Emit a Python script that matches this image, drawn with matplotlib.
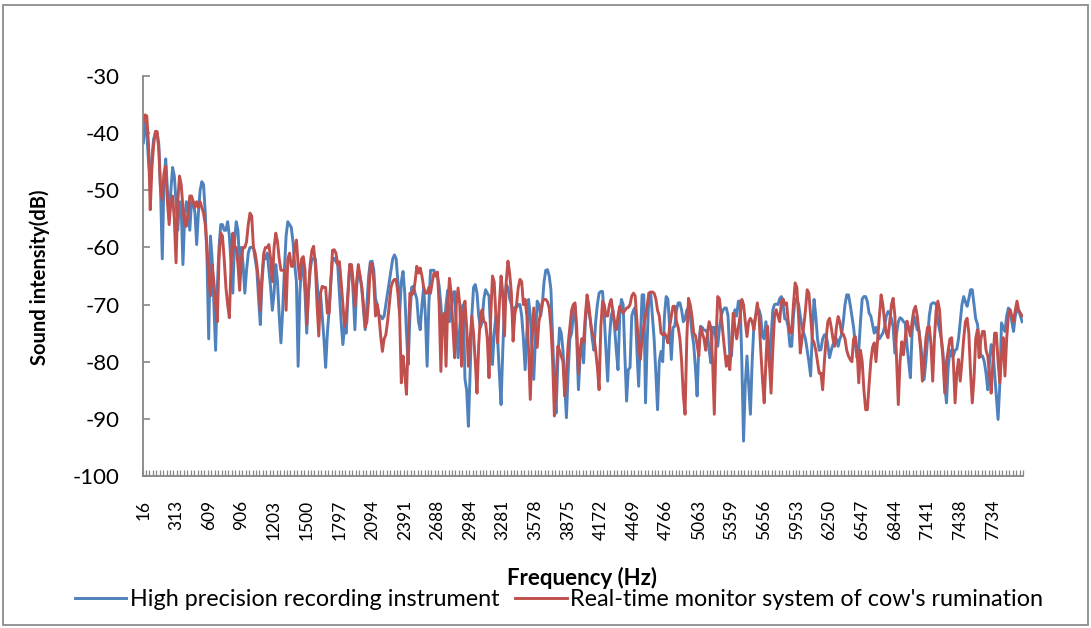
import numpy as np
import matplotlib
matplotlib.use("Agg")
import matplotlib.pyplot as plt
from matplotlib.patches import Rectangle

plt.rcParams['axes.unicode_minus'] = False
plt.rcParams['font.family'] = ['Lato', 'DejaVu Sans']

# Frequency categories (FFT bins of 15.625 Hz)
bin_hz = 15.625
n_bins = 512
label_every = 19

series_names = ["High precision recording instrument",
                "Real-time monitor system of cow's rumination"]

high_precision_db = (
    [-41.7, -38, -40, -45, -48, -44, -41, -40, -40, -42, -50, -62, -48, -44.5, -50, -55, -50, -46, -47.5, -52,
     -57, -52, -53, -63, -55, -52, -53, -57, -52, -52, -54, -59.5, -54, -50, -48.5, -49, -54, -62, -76, -58,
     -62, -70, -78, -67, -60, -56, -56, -57, -57, -55.5, -58, -63, -68, -59, -55.5, -57, -63, -60, -63, -68,
     -64, -61, -60, -60, -60, -62, -64, -69, -73.5, -66, -62, -62, -61, -64, -67, -71, -68, -63, -66, -72,
     -76.7, -71, -64, -58, -55.5, -56]
    + [-56.5, -59, -63, -66, -80.8, -68, -63, -63.5, -68, -75, -68, -64, -62, -62, -62, -66, -70, -68, -72, -76,
       -81, -75, -71, -66, -62, -61.9, -62.5, -63, -68, -73, -77, -74, -75, -68, -63, -63.5, -68, -74.4, -67, -64,
       -65, -67, -71, -74.4, -70, -65, -62.5, -62.4, -64, -69, -70, -72, -72, -72.5, -72, -70, -68, -66, -64, -62,
       -61.3, -62, -66, -71.8, -66, -64.2, -68, -75, -80.5, -72, -67, -66.8, -68, -69, -73, -74.4, -70, -67, -72, -80.8,
       -70, -64, -64, -64, -65]
    + [-65, -66.8, -70, -75, -74, -70, -67.5, -73, -71, -68, -67.7, -74, -79.3, -74, -71, -70, -83, -85, -91.3, -82,
       -72, -67, -66.5, -68, -72, -74, -73, -69, -67.4, -68, -68.5, -75, -80.5, -75, -72, -76, -82, -87.5, -78, -70,
       -66.5, -67, -69, -70, -72, -70.5, -70.5, -70, -70, -72, -76, -81.4, -75, -69.1, -72, -78, -83.1, -76, -69.4, -70,
       -72, -70, -66, -64, -63.9, -65, -67.4, -76, -84, -89, -80, -74.1, -75, -78, -84, -89.8, -82, -76, -75, -72,
       -70.3, -76, -84.9, -79, -76]
    + [-80.2, -73, -69.7, -71, -72.9, -76, -78, -73, -70, -68, -67.7, -67.7, -72, -78, -83.4, -76, -72, -71, -74, -78,
       -81.4, -72, -69.1, -70, -79, -86.9, -81.4, -81, -72, -71, -70.5, -78, -84.3, -76, -68.3, -68.3, -87.2, -76, -68, -68,
       -72, -76, -82, -88.4, -80, -78.2, -80, -72, -68.6, -69, -73.8, -79.6, -74, -73.8, -71, -69.7, -69.7, -71, -73, -72.5,
       -71, -70.5, -72, -74.9, -77, -81, -86, -77, -73.8, -74, -74.5, -74.5, -75, -78, -80.2, -74, -74, -76, -77.3, -74,
       -72, -71, -70.6, -70.6, -72]
    + [-79, -79, -74, -70.9, -72, -69.4, -69.4, -80, -93.9, -84, -79, -84, -89.2, -80, -73.8, -72, -71, -70.9, -72, -75.6,
       -76, -73, -76, -80.8, -76, -71, -70, -69.9, -70, -69, -68.6, -70, -72.5, -72.6, -74, -77.3, -77.3, -72, -69, -69,
       -70, -72, -74, -75, -76, -78, -80, -82.5, -75, -69.1, -72, -76, -78, -77.9, -76, -75.3, -75.3, -77, -79.3, -78,
       -77, -76.5, -76, -77.3, -76, -75.3, -73, -70, -68.3, -68.3, -70, -72, -74, -77, -79.3, -78, -73, -69, -68.6, -68.6,
       -69.5, -71.5, -72, -73.5, -75]
    + [-74, -75, -76, -75.5, -75, -74, -72, -71.2, -71.5, -72.5, -74, -78.5, -75, -73, -72.3, -72.5, -73, -73.2, -77, -80,
       -82.8, -75, -72, -73, -74.4, -74.5, -77, -80, -83.1, -80, -76, -72, -70, -69.7, -69.7, -70, -73, -74.4, -76, -78.5,
       -84, -87.2, -81, -78, -79, -79, -78, -77.8, -76, -73, -70, -68.6, -69.5, -70.3, -69, -67.4, -67.4, -70, -72.5, -73.4,
       -76, -79, -79, -80, -82, -84.9, -80, -77, -78, -82, -86, -90.1, -84, -73.2, -74, -74.7, -72, -70.6, -71, -73,
       -74.7, -72, -70.9, -71, -72, -73]
)

realtime_monitor_db = (
    [-38, -36.8, -37, -42, -53.4, -46, -42, -39.7, -39.7, -43, -50, -51.6, -47, -45.8, -52, -56, -52, -51, -55, -62.7,
     -52, -47.5, -49, -53, -56, -56.3, -54, -51, -51, -52, -53, -52, -53, -52, -53, -54, -56, -60, -65, -68.5,
     -63, -66, -70, -73, -62, -57.5, -58, -62, -67, -70, -72.3, -63, -57.5, -60, -60, -63, -67.5, -62, -60, -60,
     -59, -56, -54, -54.5, -60, -61, -63, -66, -71, -65, -61, -60, -60, -59.5, -62, -66, -60, -57.5, -59, -62,
     -64, -64, -64, -71, -62, -61]
    + [-63.3, -63.3, -60, -58.7, -63, -65.6, -62, -61.6, -64, -73.5, -68, -63, -60.5, -59.8, -63, -70, -75.5, -68, -66.8, -67,
       -67, -71.5, -71.5, -66, -60.5, -60.4, -61, -63, -62.5, -66, -70, -73.8, -72, -68, -63, -63, -66, -70.3, -66, -63,
       -65, -67, -70, -74, -73, -69, -63, -62.8, -66, -72, -70, -72, -75.5, -78.2, -76, -75.3, -73, -70, -67, -66,
       -65.6, -65.6, -68, -71.5, -83.7, -79, -82, -85.7, -76, -68, -68.3, -68, -66, -63.3, -64.5, -63.6, -65, -67, -68, -68,
       -67, -68, -66, -64.5, -65]
    + [-64.3, -70, -81.7, -72, -71.5, -80.8, -70, -65.4, -68, -74, -79.3, -70, -67.1, -70, -80.8, -72, -69.4, -74, -80.8, -76,
       -72, -75, -80, -85.5, -77, -72, -70.9, -73, -73.2, -76, -82.8, -72, -65, -66, -72, -76.7, -70, -65, -68, -75.5,
       -66, -62.4, -64.5, -68, -76.4, -71.7, -70, -67, -65.6, -66, -70, -69.1, -72, -78, -86.6, -77, -70.6, -74, -77.5, -73,
       -71.5, -69.5, -69.1, -69.1, -69.5, -70.6, -74, -80, -89.5, -83, -77.3, -78, -79, -80, -86, -82, -77, -74, -71, -70,
       -69.7, -74, -82, -78, -76]
    + [-76.5, -72, -68.3, -70, -73, -75, -75.6, -78, -81, -84.9, -74, -69.4, -70, -72, -72, -70, -69.1, -71, -73, -74.4,
       -72, -70.3, -71, -71.5, -71, -70.6, -70.5, -70, -68.5, -68, -68.5, -73, -77, -79.6, -76, -73.8, -72, -70, -68, -67.8,
       -67.8, -68, -69, -71, -72, -75, -75.3, -75, -75.5, -76.7, -74, -72, -70.3, -70.3, -73, -74, -76, -80, -86, -89.2,
       -76, -68.9, -70, -72, -75, -75.4, -77, -79, -74, -75, -76, -78, -75, -73, -74, -80, -89.2, -76, -68.6, -69,
       -72, -75, -78, -80.8, -79]
    + [-81.4, -77, -71.5, -74, -76, -74, -72, -69.1, -70, -73, -75.6, -73, -72.4, -73, -74.4, -72, -69.7, -72, -78, -83,
       -87.2, -80, -73.8, -80, -85.5, -78, -72, -70.9, -72, -73, -69.5, -69, -70, -69.7, -73, -75, -74.8, -70, -66.2, -67,
       -72, -78.5, -76, -73.8, -71, -67.4, -68, -72, -76, -76.7, -78, -80, -82, -82, -84.9, -80, -76, -73, -72.4, -74,
       -76, -77.3, -74, -72.1, -73, -75, -75.2, -76, -78, -79, -79.6, -80, -76, -75.6, -78, -83.7, -78, -80, -85, -88.4,
       -88.4, -84, -80, -77.5, -76.7]
    + [-80, -76, -72, -68.3, -70, -73, -75, -75.8, -73, -70, -68.9, -72, -80, -87.5, -80, -76.5, -78.8, -76, -72.9, -74,
       -75.5, -73, -71, -70.3, -72, -74.7, -78, -83.4, -80, -76, -74, -73.8, -77, -83.4, -76, -71, -69.4, -71, -76, -79.6,
       -85.5, -80, -78, -76, -75.8, -80, -87.2, -82, -79.6, -83.4, -80, -76, -73, -72.4, -75, -82, -87.2, -83, -76, -74.4,
       -79.3, -76, -74.7, -74.7, -78, -79, -82, -85.5, -80, -75, -75, -80, -83.7, -79, -75.8, -82.5, -76, -72, -70.9, -72,
       -73, -71, -69.4, -71, -71.5, -72]
)

y_ticks = [-30, -40, -50, -60, -70, -80, -90, -100]

assert len(high_precision_db) == n_bins, len(high_precision_db)
assert len(realtime_monitor_db) == n_bins, len(realtime_monitor_db)

freqs = np.arange(1, n_bins + 1) * bin_hz
freq_labels = [str(int(np.floor(f + 0.5))) for f in freqs]

W, H = 1091, 628
fig = plt.figure(figsize=(W / 100, H / 100), dpi=100)
fig.patches.append(Rectangle((3 / W, 3 / H), 1 - 6 / W, 1 - 8 / H, transform=fig.transFigure,
                             fill=False, edgecolor='#8c8c8c', linewidth=1.3))

ax = fig.add_axes([142.5 / W, 1 - 476 / H, (1023 - 142.5) / W, (476 - 76) / H])

idx = np.arange(n_bins)
blue = '#4F81BD'
red = '#C0504D'
ax.plot(idx, high_precision_db, color=blue, lw=2.1, label=series_names[0], solid_joinstyle='round')
ax.plot(idx, realtime_monitor_db, color=red, lw=2.1, label=series_names[1], solid_joinstyle='round')

ax.set_xlim(-0.5, n_bins - 0.5)
ax.set_ylim(-100, -30)

for s in ['top', 'right']:
    ax.spines[s].set_visible(False)
for s in ['left', 'bottom']:
    ax.spines[s].set_color('#868686')
    ax.spines[s].set_linewidth(1.3)

ax.set_yticks(y_ticks)
ax.set_yticklabels([str(v) for v in y_ticks])
ax.tick_params(axis='y', direction='in', length=5, width=1.2, color='#868686',
               labelsize=16, pad=16.5, labelcolor='black')

label_pos = idx[::label_every]
ax.set_xticks(label_pos)
ax.set_xticklabels([freq_labels[i] for i in label_pos], rotation=90, va='top', ha='center')
ax.tick_params(axis='x', which='major', length=0, labelsize=12.5, pad=17, labelcolor='black')
ax.set_xticks(np.arange(-0.5, n_bins, 2), minor=True)
ax.tick_params(axis='x', which='minor', direction='in', length=4, width=0.9, color='#868686')

fig.text(40 / W, 1 - 277 / H, 'Sound intensity(dB)', rotation=90, ha='center', va='center',
         fontsize=14.5, fontweight='bold')
fig.text(582 / W, 1 - 578 / H, 'Frequency (Hz)', ha='center', va='center',
         fontsize=16, fontweight='bold')

leg = fig.legend(loc='center', bbox_to_anchor=(559 / W, 1 - 600 / H), ncol=2, frameon=False,
                 fontsize=16.8, handlelength=2.2, handletextpad=0.15, columnspacing=0.7,
                 borderaxespad=0, borderpad=0)

fig.savefig('out.png', dpi=100)
